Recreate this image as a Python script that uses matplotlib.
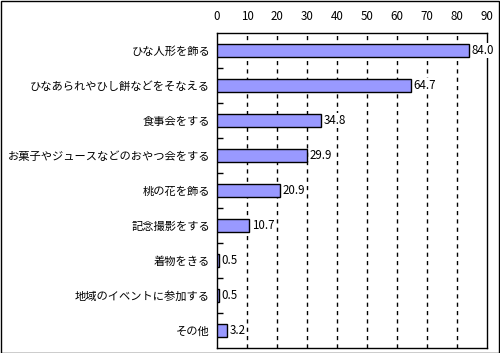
import matplotlib.pyplot as plt
from matplotlib.patches import Rectangle
import numpy as np

plt.rcParams['font.family'] = ['Noto Sans CJK JP', 'DejaVu Sans']

categories = ['ひな人形を飾る', 'ひなあられやひし餅などをそなえる', '食事会をする',
              'お菓子やジュースなどのおやつ会をする', '桃の花を飾る', '記念撮影をする',
              '着物をきる', '地域のイベントに参加する', 'その他']
values = [84.0, 64.7, 34.8, 29.9, 20.9, 10.7, 0.5, 0.5, 3.2]
xticks = [0, 10, 20, 30, 40, 50, 60, 70, 80, 90]

fig = plt.figure(figsize=(5.0, 3.53), dpi=100)
ax = fig.add_axes([0.434, 0.0142, 0.54, 0.8923])

y = np.arange(len(categories))
ax.barh(y, values, height=0.38, color='#9999FF', edgecolor='black', linewidth=1, zorder=3)

# value labels sit on white so gridlines / spine are hidden behind them
for yi, v in zip(y, values):
    ax.text(v + 0.9, yi, f'{v:.1f}', va='center', ha='left', fontsize=8.3, zorder=6,
            bbox=dict(boxstyle='square,pad=0.05', facecolor='white', edgecolor='none'))

ax.set_xlim(0, 90)
ax.set_ylim(len(categories) - 0.5, -0.5)
ax.set_xticks(xticks)
ax.xaxis.tick_top()
ax.tick_params(axis='x', length=0, pad=7, labelsize=8.3)
ax.set_yticks(y)
ax.set_yticklabels(categories)
ax.tick_params(axis='y', which='major', length=0, pad=5, labelsize=8.1)
ax.set_yticks(np.arange(0.5, len(categories) - 0.5), minor=True)
ax.tick_params(axis='y', which='minor', direction='in', length=4, width=1)

for xv in xticks[1:-1]:
    ax.axvline(xv, color='black', linestyle=(0, (3, 3)), linewidth=1, zorder=1)

for s in ax.spines.values():
    s.set_linewidth(1)
    s.set_color('black')
    s.set_zorder(2.5)

fig.patches.append(Rectangle((0.001, 0.001), 0.997, 0.996, transform=fig.transFigure,
                             fill=False, edgecolor='black', linewidth=1))

fig.savefig('out.png', dpi=100)
